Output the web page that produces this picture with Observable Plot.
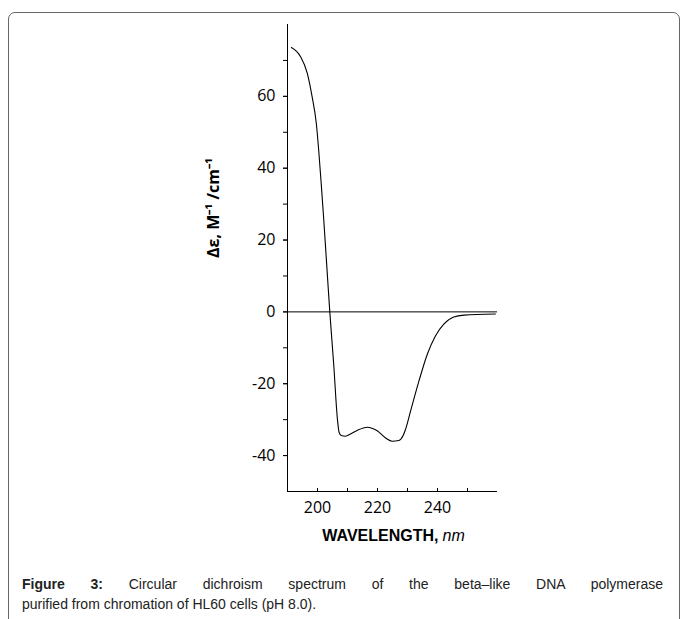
<!DOCTYPE html>
<html><head><meta charset="utf-8">
<script src="https://cdn.jsdelivr.net/npm/d3@7"></script>
<script src="https://cdn.jsdelivr.net/npm/@observablehq/plot@0.6"></script>
<style>
html,body{margin:0;padding:0;background:#fff;}
body{width:683px;height:619px;overflow:hidden;position:relative;font-family:"Liberation Sans",Arial,sans-serif;}
#frame{position:absolute;left:8px;top:12px;width:672px;height:700px;border:1px solid #666;border-radius:7px 7px 0 0;box-sizing:border-box;}
#chart{position:absolute;left:0;top:0;}
#caption{position:absolute;left:22px;top:574px;width:641px;font-size:14px;line-height:20px;color:#222;}
#caption .l1{text-align:justify;text-align-last:justify;white-space:nowrap;}
</style></head><body>
<div id="frame"></div>
<div id="chart"></div>
<div id="caption"><div class="l1" id="l1"></div><div id="l2"></div></div>
<script>
// Data
const wavelength = [191.3, 194.3, 196.6, 198.2, 199.6, 200.4, 201.3, 202.1, 203, 204.1, 205.4, 206.6, 207.2, 207.9, 209.3, 211, 213.2, 216.6, 219.9, 222.7, 224.9, 227.1, 228.5, 229.3, 231, 233.8, 236.6, 239.3, 242.1, 245.4, 248.8, 259.3];
const deltaEps   = [73.6, 71.1, 66.4, 59.9, 52.5, 45, 35, 25.5, 14, 0, -14.6, -29.5, -33.5, -34.4, -34.6, -34, -33, -32.1, -33.1, -35.1, -36, -35.8, -34.5, -32.8, -27.7, -19.3, -11.8, -6.7, -3.4, -1.4, -0.9, -0.6];
const xTicks = [200, 210, 220, 230, 240, 250];
const xTickLabels = [200, 220, 240];
const yTicks = [-40, -30, -20, -10, 0, 10, 20, 30, 40, 50, 60, 70];
const yTickLabels = [-40, -20, 0, 20, 40, 60];
const xDomain = [190, 260];
const yDomain = [-50, 80];
const yLabel = "Δε, M⁻¹ /cm⁻¹";
const xLabelMain = "WAVELENGTH,";
const xLabelUnit = "nm";
const captionBold = "Figure 3:";
const captionLine1 = " Circular dichroism spectrum of the beta–like DNA polymerase";
const captionLine2 = "purified from chromation of HL60 cells (pH 8.0).";

const data = wavelength.map((w, i) => ({w, v: deltaEps[i]}));

const chart = Plot.plot({
  width: 683,
  height: 560,
  marginLeft: 287,
  marginRight: 186,
  marginTop: 24,
  marginBottom: 69,
  x: {domain: xDomain},
  y: {domain: yDomain},
  style: {fontFamily: "'Open Sans', sans-serif", fontSize: "16px", color: "#000", background: "transparent", overflow: "visible"},
  marks: [
    Plot.ruleY([0], {stroke: "#000", strokeWidth: 1}),
    Plot.ruleX([xDomain[0]], {stroke: "#000", strokeWidth: 1}),
    Plot.ruleY([yDomain[0]], {stroke: "#000", strokeWidth: 1}),
    Plot.axisY(yTicks, {tickSize: 4, tickFormat: () => "", label: null}),
    Plot.axisY(yTickLabels, {tickSize: 4, tickPadding: 8, label: null, fontSize: 16, tickFormat: d => String(d)}),
    Plot.tickX(xTicks, {x: d => d, insetTop: 464, stroke: "#000"}),
    Plot.axisX(xTickLabels, {tickSize: 0, tickPadding: 10, label: null, fontSize: 16, tickFormat: d => String(d)}),
    Plot.line(data, {x: "w", y: "v", curve: "monotone-x", stroke: "#000", strokeWidth: 1.1}),
    Plot.text([yLabel], {frameAnchor: "left", rotate: -90, dx: -74, fontWeight: "bold", fontSize: 16, fill: "#000"}),
    Plot.text([xLabelMain], {frameAnchor: "bottom", textAnchor: "end", dx: 46, dy: 49, fontWeight: "bold", fontSize: 16, fontFamily: "'Liberation Sans', Arial, sans-serif", fill: "#000"}),
    Plot.text([xLabelUnit], {frameAnchor: "bottom", textAnchor: "start", dx: 50, dy: 49, fontStyle: "italic", fontSize: 16, fontFamily: "'Liberation Sans', Arial, sans-serif", fill: "#000"})
  ]
});
document.getElementById("chart").appendChild(chart);

const l1 = document.getElementById("l1");
const b = document.createElement("b");
b.textContent = captionBold;
l1.appendChild(b);
l1.appendChild(document.createTextNode(captionLine1));
document.getElementById("l2").textContent = captionLine2;
</script>
</body></html>
